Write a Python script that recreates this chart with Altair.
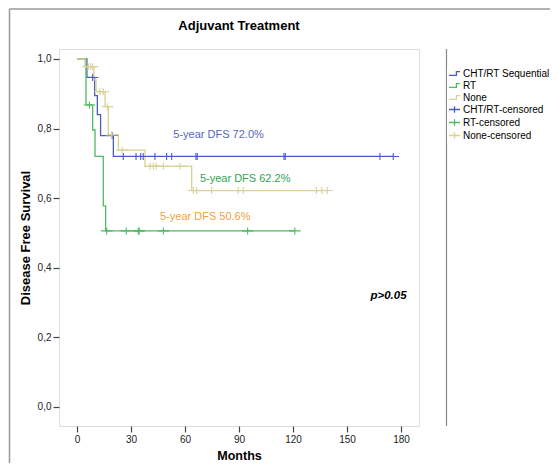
import altair as alt
import pandas as pd

# ---- data ----
groups = ["CHT/RT Sequential", "RT", "None"]
censor_names = ["CHT/RT-censored", "RT-censored", "None-censored"]

blue_t = [0, 5.5, 9.8, 11.3, 13.1, 20.2, 176.0]
blue_s = [1.0, 0.947, 0.895, 0.84, 0.78, 0.72, 0.72]
green_t = [0, 5.0, 8.7, 10.0, 14.6, 15.9, 121.0]
green_s = [1.0, 0.868, 0.796, 0.72, 0.578, 0.506, 0.506]
tan_t = [0, 4.4, 9.4, 10.6, 15.6, 17.4, 23.0, 37.8, 63.7, 139.5]
tan_s = [1.0, 0.978, 0.94, 0.906, 0.863, 0.782, 0.738, 0.692, 0.622, 0.622]

blue_ct = [8.7, 19.5, 25.7, 32.8, 35.4, 36.8, 43.3, 49.8, 52.6, 66.1, 66.8, 115.0, 115.7, 168.3, 175.7]
blue_cs = [0.947, 0.78, 0.72, 0.72, 0.72, 0.72, 0.72, 0.72, 0.72, 0.72, 0.72, 0.72, 0.72, 0.72, 0.72]
green_ct = [6.9, 16.5, 27.4, 34.0, 34.6, 48.0, 94.8, 121.0]
green_cs = [0.868, 0.506, 0.506, 0.506, 0.506, 0.506, 0.506, 0.506]
tan_ct = [6.3, 7.6, 8.7, 12.8, 14.6, 16.9, 19.3, 25.0, 40.6, 42.4, 44.0, 48.0, 57.2,
          64.6, 66.5, 74.8, 89.6, 92.4, 133.0, 136.0, 139.0]
tan_cs = [0.978, 0.978, 0.978, 0.906, 0.906, 0.863, 0.782, 0.738, 0.692, 0.692, 0.692, 0.692, 0.692,
          0.622, 0.622, 0.622, 0.622, 0.622, 0.622, 0.622, 0.622]

label_text = ["5-year DFS  72.0%", "5-year DFS 62.2%", "5-year DFS 50.6%"]
label_x = [53.5, 68.3, 46.1]
label_y = [0.782, 0.655, 0.546]
label_color = ["#5566c4", "#2fa354", "#f5a040"]

p_text = ["p>0.05"]
p_x = [163.0]
p_y = [0.319]

x_ticks = [0, 30, 60, 90, 120, 150, 180]
y_ticks = [0.0, 0.2, 0.4, 0.6, 0.8, 1.0]

col_blue, col_green, col_tan = "#4b5cc1", "#4fbb62", "#d9d196"
step_path = "M-1,0.35L0.35,0.35L0.35,-0.35L1,-0.35"
cross_path = "M-1,0L1,0M0,-0.6L0,0.6"

# ---- tables ----
rows = []
for name, ts, ss in zip(groups, [blue_t, green_t, tan_t], [blue_s, green_s, tan_s]):
    for i, (t, s) in enumerate(zip(ts, ss)):
        rows.append({"name": name, "t": t, "s": s, "ord": i})
lines_df = pd.DataFrame(rows)

crow = []
for name, ts, ss in zip(censor_names, [blue_ct, green_ct, tan_ct], [blue_cs, green_cs, tan_cs]):
    for t, s in zip(ts, ss):
        crow.append({"name": name, "t": t, "s": s})
cens_df = pd.DataFrame(crow)

labels_df = pd.DataFrame({"t": label_x, "s": label_y, "txt": label_text, "col": label_color})
p_df = pd.DataFrame({"t": p_x, "s": p_y, "txt": p_text})

FONT = "Liberation Sans"
domain_all = groups + censor_names
color_scale = alt.Scale(domain=domain_all,
                        range=[col_blue, col_green, col_tan, col_blue, col_green, col_tan])
shape_scale = alt.Scale(domain=domain_all,
                        range=[step_path, step_path, step_path, cross_path, cross_path, cross_path])

xscale = alt.Scale(domain=[-10, 190], nice=False, zero=False)
yscale = alt.Scale(domain=[-0.0546, 1.0287], nice=False, zero=False)

xaxis = alt.Axis(values=x_ticks, title="Months", titleFont=FONT, titleFontSize=12.5,
                 titleFontWeight="bold", titleColor="black", titlePadding=5,
                 labelFont=FONT, labelFontSize=10, labelColor="#222", labelPadding=2,
                 tickSize=6, tickColor="#444", tickWidth=1.2, domain=False, grid=False)
yaxis = alt.Axis(values=y_ticks, title="Disease Free Survival", titleFont=FONT, titleFontSize=13,
                 titleFontWeight="bold", titleColor="black", titlePadding=5,
                 labelExpr="replace(format(datum.value, '.1f'), '.', ',')",
                 labelFont=FONT, labelFontSize=10, labelColor="#222", labelPadding=2,
                 tickSize=6, tickColor="#444", tickWidth=1.2, domain=False, grid=False)

legend = alt.Legend(title=None, orient="none", legendX=388, legendY=17,
                    symbolSize=120, symbolStrokeWidth=1.3, labelFont=FONT, labelFontSize=10,
                    labelColor="black", labelOffset=2, rowPadding=0, padding=1,
                    fillColor="white")

lines = alt.Chart(lines_df).mark_line(interpolate="step-after", strokeWidth=1.3).encode(
    x=alt.X("t:Q", scale=xscale, axis=xaxis),
    y=alt.Y("s:Q", scale=yscale, axis=yaxis),
    color=alt.Color("name:N", scale=color_scale, legend=legend),
    order="ord:Q",
)

cens = alt.Chart(cens_df).mark_point(filled=False, size=135, strokeWidth=1.1, opacity=1).encode(
    x=alt.X("t:Q", scale=xscale),
    y=alt.Y("s:Q", scale=yscale),
    color=alt.Color("name:N", scale=color_scale, legend=legend),
    shape=alt.Shape("name:N", scale=shape_scale, legend=legend),
)

labels = alt.Chart(labels_df).mark_text(align="left", baseline="middle", font=FONT, fontSize=11).encode(
    x=alt.X("t:Q", scale=xscale),
    y=alt.Y("s:Q", scale=yscale),
    text="txt:N",
    color=alt.Color("col:N", scale=None),
)

ptext = alt.Chart(p_df).mark_text(align="left", baseline="middle", font=FONT, fontSize=11.5,
                                  fontStyle="italic", fontWeight="bold", color="black").encode(
    x=alt.X("t:Q", scale=xscale),
    y=alt.Y("s:Q", scale=yscale),
    text="txt:N",
)

one = pd.DataFrame({"a": [0]})
frame_left = alt.Chart(one).mark_rule(color="#999", strokeWidth=1.5).encode(
    x=alt.value(-49.5), y=alt.value(-40), y2=alt.value(420))
frame_top = alt.Chart(one).mark_rule(color="#999", strokeWidth=1.5).encode(
    x=alt.value(-49.5), x2=alt.value(495), y=alt.value(-40))
legend_line = alt.Chart(one).mark_rule(color="#888", strokeWidth=1.2).encode(
    x=alt.value(387.5), y=alt.value(0), y2=alt.value(377))

chart = alt.layer(frame_left, frame_top, legend_line, lines, cens, labels, ptext).properties(
    width=360, height=377,
    padding={"left": 51, "top": 41, "right": 131, "bottom": 37},
    autosize=alt.AutoSizeParams(type="none"),
    title=alt.TitleParams("Adjuvant Treatment", font=FONT, fontSize=13, fontWeight="bold",
                          color="black", anchor="middle", frame="group", offset=0, dy=25),
).configure_view(stroke="#666", strokeWidth=1.5).configure(background="white")

chart.save("out.html", embed_options={"renderer": "svg", "actions": False})
